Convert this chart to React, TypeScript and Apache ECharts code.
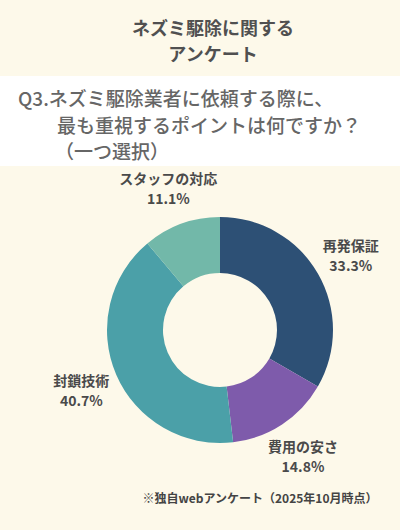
import React, { useEffect, useRef } from "react";
import * as echarts from "echarts";

const categories = ["再発保証", "費用の安さ", "封鎖技術", "スタッフの対応"];
const values = [33.3, 14.8, 40.7, 11.1];
const colors = ["#2d5075", "#7e5bab", "#4ba0a8", "#72b8a9"];
const titleLines = "ネズミ駆除に関する\nアンケート";
const questionLines = [
  "Q3.ネズミ駆除業者に依頼する際に、",
  "最も重視するポイントは何ですか？",
  "（一つ選択）",
];
const footnote = "※独自webアンケート（2025年10月時点）";

const FONT = '"Noto Sans CJK JP", "Noto Sans", sans-serif';
const CX = 220;
const CY = 330;
const LABEL_R = 151;

export default function App() {
  const ref = useRef<HTMLDivElement>(null);
  useEffect(() => {
    document.body.style.margin = "0";
    if (!ref.current) return;
    const chart = echarts.init(ref.current, null, { renderer: "svg" });
    const total = values.reduce((a, b) => a + b, 0);
    const midAngles: number[] = [];
    let acc = 0;
    values.forEach((v) => {
      midAngles.push(((acc + v / 2) / total) * Math.PI * 2);
      acc += v;
    });
    const qStyle = (text: string) => ({
      text,
      font: `500 19px ${FONT}`,
      fill: "#666666",
      textAlign: "left",
      textVerticalAlign: "middle",
    });
    chart.setOption({
      animation: false,
      backgroundColor: "#fdf9ea",
      graphic: [
        {
          type: "rect",
          shape: { x: 0, y: 76, width: 400, height: 90 },
          style: { fill: "#ffffff" },
          z: 0,
        },
        {
          type: "text",
          x: 213,
          y: 40,
          style: {
            text: titleLines,
            font: `bold 18px ${FONT}`,
            fill: "#505050",
            textAlign: "center",
            textVerticalAlign: "middle",
            lineHeight: 26,
          },
        },
        { type: "text", x: 18, y: 97, style: qStyle(questionLines[0]) },
        { type: "text", x: 57, y: 124, style: qStyle(questionLines[1]) },
        { type: "text", x: 55, y: 150, style: qStyle(questionLines[2]) },
        {
          type: "text",
          x: 260,
          y: 497,
          style: {
            text: footnote,
            font: `bold 12px ${FONT}`,
            fill: "#444444",
            textAlign: "center",
            textVerticalAlign: "middle",
          },
        },
      ],
      series: [
        {
          type: "pie",
          center: [CX, CY],
          radius: [57, 113],
          startAngle: 90,
          clockwise: true,
          avoidLabelOverlap: false,
          label: {
            show: true,
            position: "outside",
            formatter: (p: any) => `${p.name}\n${p.value}%`,
            fontFamily: FONT,
            fontSize: 14,
            fontWeight: "bold",
            color: "#4a4a4a",
            lineHeight: 20,
            align: "center",
          },
          labelLine: { show: false },
          labelLayout: (params: any) => {
            const a = midAngles[params.dataIndex];
            return {
              x: CX + LABEL_R * Math.sin(a),
              y: CY - LABEL_R * Math.cos(a),
              align: "center",
              verticalAlign: "middle",
            };
          },
          itemStyle: { borderWidth: 0 },
          emphasis: { disabled: true },
          data: categories.map((name, i) => ({
            name,
            value: values[i],
            itemStyle: { color: colors[i] },
          })),
        },
      ],
    });
    return () => chart.dispose();
  }, []);
  return <div ref={ref} style={{ width: 400, height: 530 }} />;
}
